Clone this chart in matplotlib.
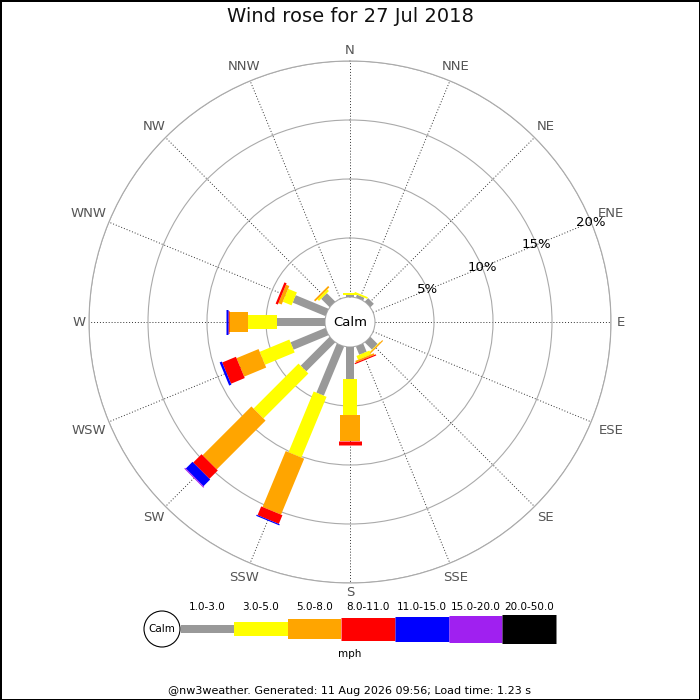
import numpy as np
import matplotlib
matplotlib.use("Agg")
import matplotlib.pyplot as plt
from matplotlib.patches import Circle

directions = ["N", "NNE", "NE", "ENE", "E", "ESE", "SE", "SSE",
              "S", "SSW", "SW", "WSW", "W", "WNW", "NW", "NNW"]
speed_bins = ["1.0-3.0", "3.0-5.0", "5.0-8.0", "8.0-11.0",
              "11.0-15.0", "15.0-20.0", "20.0-50.0"]
bin_colors = ["#999999", "#ffff00", "#ffa500", "#ff0000",
              "#0000ff", "#a020f0", "#000000"]

# % of time per direction, one list per speed bin (mph)
pct_1_3 = [0.2, 0.25, 0.4, 0, 0, 0, 0.85, 0.75, 2.7, 4.5, 3.46, 3.2, 4.07, 3.0, 1.0, 0]
pct_3_5 = [0.15, 0.15, 0, 0, 0, 0, 0.05, 0.35, 3.1, 5.57, 5.39, 2.72, 2.43, 0.8, 0.2, 0]
pct_5_8 = [0, 0, 0, 0, 0, 0, 0.1, 0.15, 2.15, 5.13, 5.85, 2.02, 1.6, 0.3, 0.15, 0]
pct_8_11 = [0, 0, 0, 0, 0, 0, 0, 0.1, 0.38, 0.8, 1.0, 1.26, 0.15, 0.2, 0, 0]
pct_11_15 = [0, 0, 0, 0, 0, 0, 0, 0, 0, 0.1, 0.8, 0.2, 0.15, 0, 0, 0]
pct_15_20 = [0, 0, 0, 0, 0, 0, 0, 0, 0, 0, 0.1, 0, 0, 0, 0, 0]
pct_20_50 = [0, 0, 0, 0, 0, 0, 0, 0, 0, 0, 0, 0, 0, 0, 0, 0]
series = [pct_1_3, pct_3_5, pct_5_8, pct_8_11, pct_11_15, pct_15_20, pct_20_50]

ring_pcts = [5, 10, 15, 20]

# layout (pixels at 100 dpi)
W = H = 700
cx, cy = 350, 322
r_outer = 261
r_calm = 25
bar_px = [8, 14, 20, 23, 25, 27, 29]
px_per_pct = (r_outer - r_calm) / ring_pcts[-1]

fig = plt.figure(figsize=(7, 7), dpi=100)
fig.patch.set_facecolor("white")
fig.patch.set_edgecolor("black")
fig.patch.set_linewidth(2)

ax = fig.add_axes([(cx - r_outer) / W, (H - cy - r_outer) / H,
                   2 * r_outer / W, 2 * r_outer / H], projection="polar")
ax.set_theta_zero_location("N")
ax.set_theta_direction(-1)
ax.set_rorigin(-r_calm / px_per_pct)
ax.set_ylim(0, ring_pcts[-1])

thetas = np.radians(np.arange(len(directions)) * 22.5)
ax.set_thetagrids(np.degrees(thetas), labels=[""] * len(directions))
ax.set_rgrids(ring_pcts, labels=[""] * len(ring_pcts))
ax.xaxis.grid(True, color="#333333", linestyle=(0, (1, 2)), linewidth=0.7)
ax.yaxis.grid(True, color="#aaaaaa", linestyle="-", linewidth=0.8)
ax.spines["polar"].set_color("#aaaaaa")
ax.spines["polar"].set_linewidth(0.8)
ax.spines["inner"].set_color("#aaaaaa")
ax.spines["inner"].set_linewidth(0.8)
ax.tick_params(length=0)

# wind legs
for i, th in enumerate(thetas):
    base = 0.0
    for j, vals in enumerate(series):
        v = vals[i]
        if v <= 0:
            continue
        ax.plot([th, th], [base, base + v], color=bin_colors[j],
                linewidth=bar_px[j] * 72 / 100, solid_capstyle="butt", zorder=3)
        base += v

# ring labels along ENE
for p in ring_pcts:
    ax.text(np.radians(67.5), p, f"{p}%", ha="center", va="center",
            fontsize=9.5, color="black", zorder=4)

# compass labels
for name, th in zip(directions, thetas):
    w = 11 * len(name)
    h = 12
    r_px = r_outer + 4 + 0.5 * (w * abs(np.sin(th)) + h * abs(np.cos(th)))
    ax.text(th, (r_px - r_calm) / px_per_pct, name, ha="center", va="center",
            fontsize=9.5, color="#555555", clip_on=False)

ax.text(0.5, 0.5, "Calm", transform=ax.transAxes, ha="center", va="center",
        fontsize=9.5, color="black")

fig.text(0.5, 1 - 17 / H, "Wind rose for 27 Jul 2018", ha="center", va="center",
         fontsize=14, color="#111111")

# speed legend
lg = fig.add_axes([0, 0, 1, 1])
lg.set_xlim(0, W)
lg.set_ylim(H, 0)
lg.axis("off")
lg.patch.set_alpha(0)
leg_y = 629
leg_x0 = 180.5
seg = 53.6
lg.add_patch(Circle((162, leg_y), 18, facecolor="white", edgecolor="black", linewidth=0.8))
lg.text(162, leg_y, "Calm", ha="center", va="center", fontsize=7.5)
for j, lab in enumerate(speed_bins):
    x0 = leg_x0 + j * seg
    lg.plot([x0, x0 + seg], [leg_y, leg_y], color=bin_colors[j],
            linewidth=bar_px[j] * 72 / 100, solid_capstyle="butt")
    lg.text(x0 + seg / 2, 607, lab, ha="center", va="center", fontsize=7.5)
lg.text(350, 654, "mph", ha="center", va="center", fontsize=7.5)
lg.text(350, 691, "@nw3weather. Generated: 11 Aug 2026 09:56; Load time: 1.23 s",
        ha="center", va="center", fontsize=8)

fig.savefig("out.png", dpi=100, facecolor=fig.get_facecolor(),
            edgecolor=fig.get_edgecolor())
